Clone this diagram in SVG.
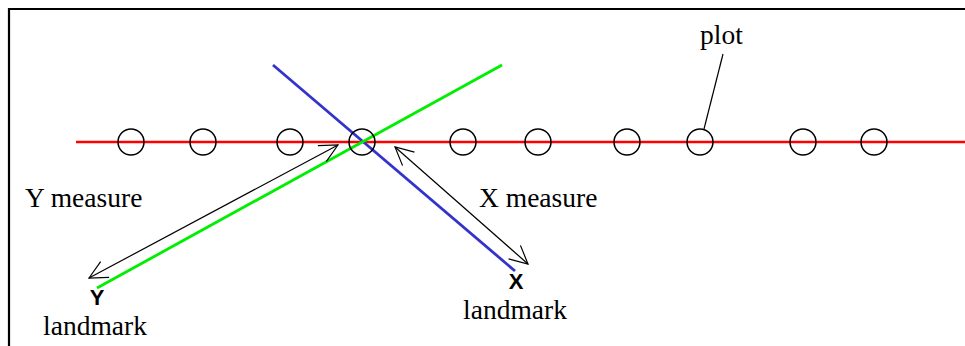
<svg xmlns="http://www.w3.org/2000/svg" width="965" height="346" viewBox="0 0 965 346">
<style>
.serif{font-family:"Liberation Serif","Times New Roman",serif;font-size:27.5px;fill:#000}
.bold{font-family:"Liberation Sans",Arial,sans-serif;font-size:22px;font-weight:bold;fill:#000}
.plot{fill:none;stroke:#000;stroke-width:1.5}
.meas{stroke:#000;stroke-width:1.2;fill:none}
</style>
<defs>
<marker id="ah" viewBox="0 0 20 20" refX="19" refY="10" markerWidth="20" markerHeight="20" markerUnits="userSpaceOnUse" orient="auto-start-reverse">
<path d="M1,1 L19,10 L1,19" fill="none" stroke="#000" stroke-width="1.2"/>
</marker>
</defs>
<rect width="965" height="346" fill="#fff"/>
<path d="M9,346 V9 H965" fill="none" stroke="#000" stroke-width="2.2"/>
<g id="connectors">
<line id="row" x1="76" y1="142" x2="965" y2="142" stroke="#ff0000" stroke-width="2.5"/>
<line id="x-line" x1="273" y1="65" x2="515" y2="271" stroke="#3333cc" stroke-width="2.8"/>
<line id="y-line" x1="97" y1="288" x2="502" y2="65" stroke="#00ee00" stroke-width="2.8"/>
<line id="y-measure" class="meas" x1="338" y1="145" x2="89" y2="278" marker-start="url(#ah)" marker-end="url(#ah)"/>
<line id="x-measure" class="meas" x1="395" y1="147" x2="528" y2="264" marker-start="url(#ah)" marker-end="url(#ah)"/>
<line id="plot-leader" x1="723" y1="54" x2="704" y2="129" stroke="#000" stroke-width="1.2"/>
</g>
<g id="plots">
<circle class="plot" cx="131" cy="142" r="13"/>
<circle class="plot" cx="203" cy="142" r="13"/>
<circle class="plot" cx="290" cy="142" r="13"/>
<circle class="plot" cx="362" cy="142" r="13"/>
<circle class="plot" cx="463" cy="142" r="13"/>
<circle class="plot" cx="538" cy="142" r="13"/>
<circle class="plot" cx="627" cy="142" r="13"/>
<circle class="plot" cx="700" cy="142" r="13"/>
<circle class="plot" cx="803" cy="142" r="13"/>
<circle class="plot" cx="874" cy="142" r="13"/>
</g>
<g id="plot-label"><text class="serif" x="700" y="44">plot</text></g>
<g id="y-measure-label"><text class="serif" x="25" y="207">Y measure</text></g>
<g id="x-measure-label"><text class="serif" x="479" y="207">X measure</text></g>
<g id="y-landmark">
<text class="bold" x="97" y="305" text-anchor="middle">Y</text>
<text class="serif" x="95" y="335" text-anchor="middle">landmark</text>
</g>
<g id="x-landmark">
<text class="bold" x="516" y="289" text-anchor="middle">X</text>
<text class="serif" x="515" y="319" text-anchor="middle">landmark</text>
</g>
</svg>
